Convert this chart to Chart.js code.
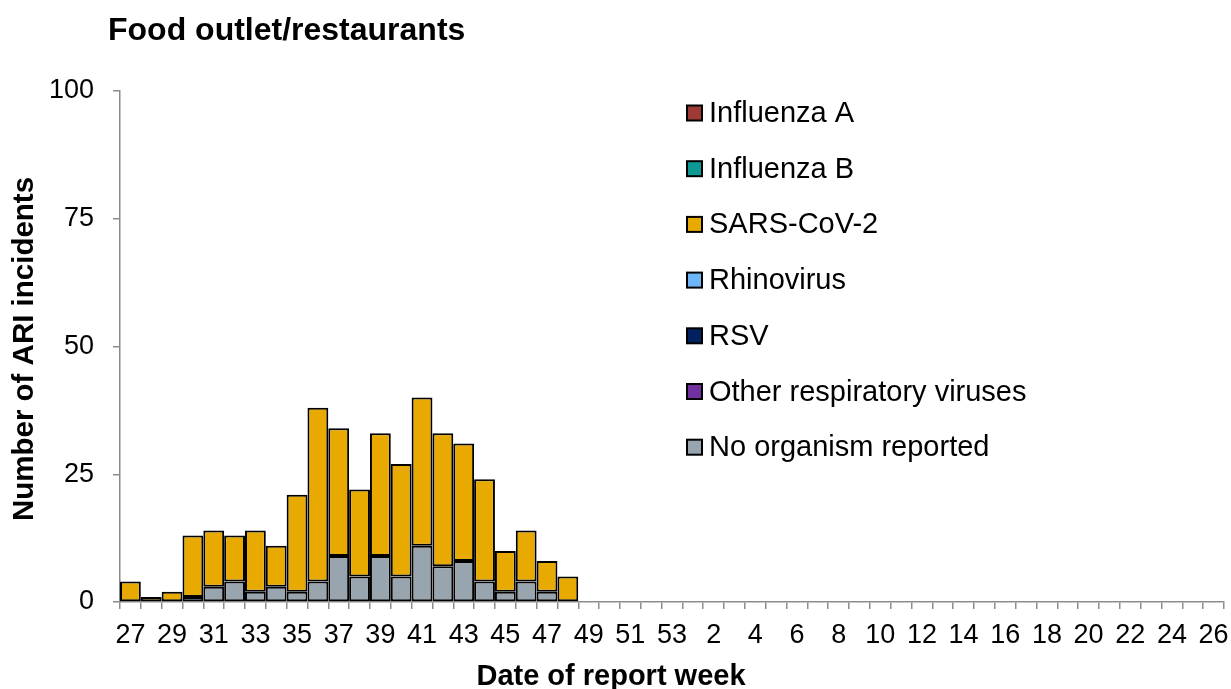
<!DOCTYPE html>
<html>
<head>
<meta charset="utf-8">
<title>Food outlet/restaurants</title>
<script src="https://cdn.jsdelivr.net/npm/chart.js@4/dist/chart.umd.min.js"></script>
<style>
  html, body { margin: 0; padding: 0; background: #fff; }
  #wrap { width: 1231px; height: 689px; }
</style>
</head>
<body>
<div id="wrap"><canvas id="chart" width="1231" height="689"></canvas></div>
<script>
// report weeks: 27..53 then 1..26
const weeks = ['27','28','29','30','31','32','33','34','35','36','37','38','39','40','41','42','43','44','45','46','47','48','49','50','51','52','53',
               '1','2','3','4','5','6','7','8','9','10','11','12','13','14','15','16','17','18','19','20','21','22','23','24','25','26'];

// values for weeks 27..48 (nothing reported after that yet)
const influenzaA  = [0,0,0,0,0,0,0,0,0,0,0,0,0,0,0,0,0,0,0,0,0,0];
const influenzaB  = [0,0,0,0,0,0,0,0,0,0,0,0,0,0,0,0,0,0,0,0,0,0];
const sarsCov2    = [4,1,2,12,11,9,12,8,19,34,25,17,24,22,29,26,23,20,8,10,6,5];
const rhinovirus  = [0,0,0,0,0,0,0,0,0,0,0,0,0,0,0,0,0,0,0,0,0,0];
const rsv         = [0,0,0,0,0,0,0,0,0,0,0,0,0,0,0,0,0,0,0,0,0,0];
const otherResp   = [0,0,0,0,0,0,0,0,0,0,0,0,0,0,0,0,0,0,0,0,0,0];
const noOrganism  = [0,0,0,1,3,4,2,3,2,4,9,5,9,5,11,7,8,4,2,4,2,0];

const yTicks = [0, 25, 50, 75, 100];

const FONT = "Arial, 'Liberation Sans', sans-serif";
const AXIS_GREY = '#8c8c8c';

function ds(label, data, color) {
    return {
        label: label,
        data: data,
        backgroundColor: color,
        borderColor: '#000',
        borderWidth: 2,
        borderSkipped: false,
        inflateAmount: 0,
        barPercentage: 1,
        categoryPercentage: 1
    };
}

// stacking goes bottom -> top, legend shows it reversed
const datasets = [
    ds('No organism reported', noOrganism, '#98a4ae'),
    ds('Other respiratory viruses', otherResp, '#7030a0'),
    ds('RSV', rsv, '#002060'),
    ds('Rhinovirus', rhinovirus, '#6db6f8'),
    ds('SARS-CoV-2', sarsCov2, '#e8a900'),
    ds('Influenza B', influenzaB, '#0e9a94'),
    ds('Influenza A', influenzaA, '#9e3a36')
];

// titles + floating legend drawn on top of the chart
const textPlugin = {
    id: 'textPlugin',
    afterDraw(chart) {
        const ctx = chart.ctx;
        ctx.save();
        ctx.fillStyle = '#000';

        ctx.font = 'bold 32px ' + FONT;
        ctx.textAlign = 'left';
        ctx.textBaseline = 'alphabetic';
        ctx.fillText('Food outlet/restaurants', 108, 40);

        ctx.font = 'bold 29px ' + FONT;
        ctx.textAlign = 'center';
        ctx.fillText('Date of report week', 611, 685);

        ctx.save();
        ctx.translate(33, 349);
        ctx.rotate(-Math.PI / 2);
        ctx.font = 'bold 29.5px ' + FONT;
        ctx.fillText('Number of ARI incidents', 0, 0);
        ctx.restore();

        // legend
        const items = chart.data.datasets.slice().reverse();
        ctx.font = '29px ' + FONT;
        ctx.textAlign = 'left';
        ctx.textBaseline = 'middle';
        items.forEach(function (d, i) {
            const y = 113 + i * 55.7;
            ctx.fillStyle = d.backgroundColor;
            ctx.fillRect(687, y - 7.5, 15, 15);
            ctx.strokeStyle = '#000';
            ctx.lineWidth = 2;
            ctx.strokeRect(687, y - 7.5, 15, 15);
            ctx.fillStyle = '#000';
            ctx.fillText(d.label, 709, y + 1);
        });
        ctx.restore();
    }
};

const ctx = document.getElementById('chart').getContext('2d');
const myChart = new Chart(ctx, {
    type: 'bar',
    data: { labels: weeks, datasets: datasets },
    plugins: [textPlugin],
    options: {
        responsive: false,
        animation: false,
        devicePixelRatio: 1,
        layout: { padding: { top: 91, right: 7, bottom: 0, left: 0 } },
        plugins: {
            legend: { display: false },
            title: { display: false },
            tooltip: { enabled: false }
        },
        scales: {
            x: {
                stacked: true,
                offset: true,
                grid: { offset: true, drawOnChartArea: false, drawTicks: true, tickLength: 7, color: AXIS_GREY, lineWidth: 1.5 },
                border: { color: AXIS_GREY, width: 1.5 },
                ticks: {
                    autoSkip: false,
                    maxRotation: 0,
                    minRotation: 0,
                    padding: 10,
                    color: '#000',
                    font: { size: 27, family: FONT },
                    callback: function (v, i) {
                        return i % 2 === 0 ? this.getLabelForValue(v) : '';
                    }
                },
                afterFit: function (s) {
                    s.height = 87;
                    s.paddingLeft = 0;
                    s.paddingRight = 0;
                }
            },
            y: {
                stacked: true,
                min: 0,
                max: 100,
                afterBuildTicks: function (s) { s.ticks = yTicks.map(v => ({ value: v })); },
                grid: { drawOnChartArea: false, drawTicks: true, tickLength: 7, color: AXIS_GREY, lineWidth: 1.5 },
                border: { color: AXIS_GREY, width: 1.5 },
                ticks: {
                    padding: 19,
                    color: '#000',
                    font: { size: 27, family: FONT }
                },
                afterFit: function (s) { s.width = 120; }
            }
        }
    }
});
</script>
</body>
</html>
